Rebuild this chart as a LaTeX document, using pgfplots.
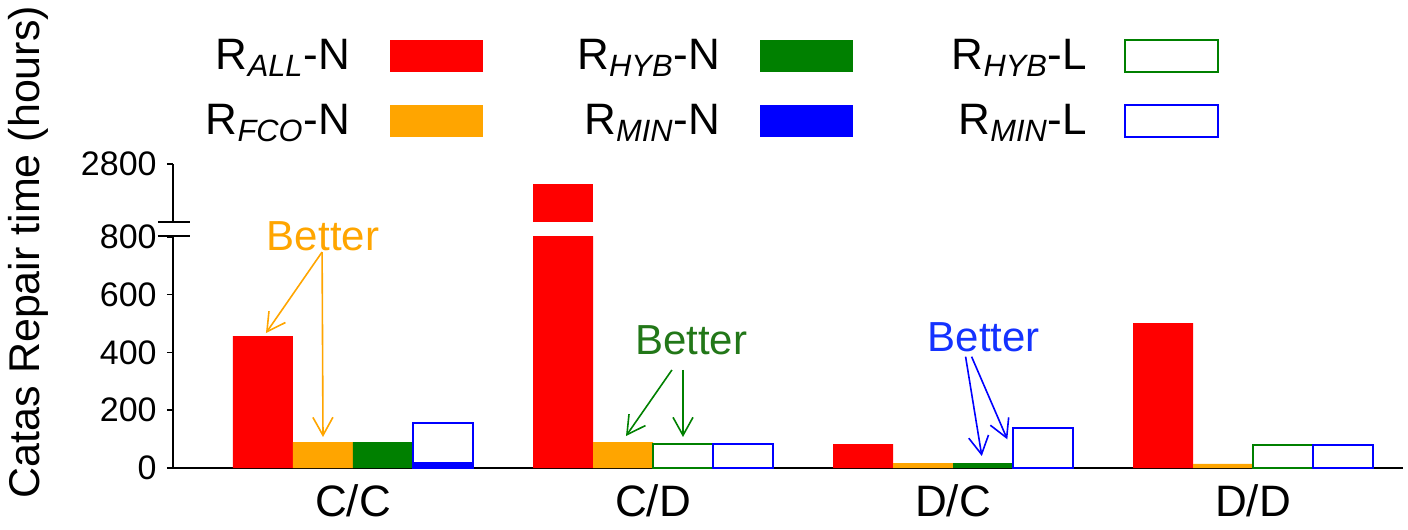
\documentclass[border=0pt]{standalone}
\usepackage{fontspec}
\setmainfont{Liberation Sans}
\usepackage{pgfplots}
\pgfplotsset{compat=1.18}
\usetikzlibrary{arrows.meta}
\definecolor{cred}{RGB}{255,0,0}
\definecolor{corange}{RGB}{255,165,0}
\definecolor{cgreen}{RGB}{0,128,0}
\definecolor{cblue}{RGB}{0,0,255}
\definecolor{tgreen}{RGB}{34,119,24}
\definecolor{tblue}{RGB}{20,50,255}
\newcommand{\lentry}[2]{\makebox[120pt][r]{R\textsubscript{\textit{#1}}-#2\kern20pt}}
\newcommand{\lentryc}[2]{\makebox[117pt][r]{R\textsubscript{\textit{#1}}-#2\kern18.5pt}}
\begin{document}
\begin{tikzpicture}
\useasboundingbox (-86.5pt,-31pt) rectangle (617.5pt,234pt);
\begin{axis}[
  scale only axis, width=615pt, height=152pt,
  xmin=-0.6, xmax=3.5, ymin=0, ymax=1052.8,
  axis lines=left, axis line style={-, line width=0.75pt},
  clip=false,
  xtick={0,1,2,3}, xticklabels={C/C,C/D,D/C,D/D},
  x tick style={draw=none},
  ytick={0,200,400,600,800,1052.8}, yticklabels={0,200,400,600,800,2800},
  tick align=outside, major tick length=3pt,
  y tick style={line width=0.75pt, black},
  yticklabel style={font=\fontsize{17}{20}\selectfont, inner sep=0pt, xshift=-5pt},
  xticklabel style={font=\fontsize{22}{26}\selectfont, inner sep=0pt, yshift=-5pt},
  ylabel={Catas Repair time (hours)},
  every axis y label/.style={at={(axis description cs:0,0)}, xshift=-72.5pt, yshift=108pt, rotate=90, anchor=center, font=\fontsize{21.5}{25}\selectfont},
  legend columns=3, legend plot pos=right,
  legend style={at={(axis description cs:0,1)}, anchor=north west, xshift=-11.5pt, yshift=70.25pt,
    draw=none, fill=none, inner sep=0pt, outer sep=0pt, column sep=0pt, row sep=0pt,
    nodes={inner sep=0pt}, cells={anchor=center}, font=\fontsize{22}{26}\selectfont},
  legend image code/.code={\path[draw=none, fill=none] (0pt,-16.25pt) rectangle (65pt,16.25pt); \path[#1] (0pt,-8pt) rectangle (46.5pt,8pt);},
]
% legend
\addlegendimage{fill=cred, draw=none}
\addlegendentry{\lentry{ALL}{N}}
\addlegendimage{fill=cgreen, draw=none}
\addlegendentry{\lentry{HYB}{N}}
\addlegendimage{fill=none, draw=cgreen, line width=1pt}
\addlegendentry{\lentryc{HYB}{L}}
\addlegendimage{fill=corange, draw=none}
\addlegendentry{\lentry{FCO}{N}}
\addlegendimage{fill=cblue, draw=none}
\addlegendentry{\lentry{MIN}{N}}
\addlegendimage{fill=none, draw=cblue, line width=1pt}
\addlegendentry{\lentryc{MIN}{L}}

% R_ALL-N
\addplot[ybar, bar width=30pt, bar shift=-45pt, fill=cred, draw=none, forget plot]
  coordinates {(0,457) (1,803) (2,83) (3,502)};
% upper piece of the broken C/D bar (display units above the break)
\addplot[fill=cred, draw=none, forget plot]
  coordinates {(0.6,852) (0.8,852) (0.8,983.5) (0.6,983.5)} -- cycle;
% R_FCO-N
\addplot[ybar, bar width=30pt, bar shift=-15pt, fill=corange, draw=none, forget plot]
  coordinates {(0,90) (1,90) (2,17) (3,14)};
% R_HYB-N
\addplot[ybar, bar width=30pt, bar shift=15pt, fill=cgreen, draw=none, forget plot]
  coordinates {(0,90) (2,17)};
% R_HYB-L
\addplot[ybar, bar width=30pt, bar shift=15pt, fill=none, draw=cgreen, line width=1pt, forget plot]
  coordinates {(1,83) (3,80)};
% R_MIN-N
\addplot[ybar, bar width=30pt, bar shift=45pt, fill=cblue, draw=none, forget plot]
  coordinates {(0,21)};
% R_MIN-L
\addplot[ybar, bar width=30pt, bar shift=45pt, fill=none, draw=cblue, line width=1pt, forget plot]
  coordinates {(0,156) (1,83) (2,139) (3,80)};

% axis break
\fill[white] (axis cs:-0.63,806) rectangle (axis cs:-0.57,849);
\draw[line width=0.75pt] (axis cs:-0.65,852) -- (axis cs:-0.543,852);
\draw[line width=0.75pt] (axis cs:-0.65,803) -- (axis cs:-0.543,803);

% annotations
\node[text=corange, font=\fontsize{21}{24}\selectfont] at (axis cs:-0.1,803.5) {Better};
\draw[corange, line width=0.8pt, -{Straight Barb[length=9pt,width=10pt]}] (axis cs:-0.103,748) -- (axis cs:-0.29,467.5);
\draw[corange, line width=0.8pt, -{Straight Barb[length=9pt,width=10pt]}] (axis cs:-0.103,748) -- (axis cs:-0.1,107.4);

\node[text=tgreen, font=\fontsize{21}{24}\selectfont] at (axis cs:1.127,443) {Better};
\draw[cgreen, line width=0.8pt, -{Straight Barb[length=9pt,width=10pt]}] (axis cs:1.063,339.4) -- (axis cs:0.91,110.8);
\draw[cgreen, line width=0.8pt, -{Straight Barb[length=9pt,width=10pt]}] (axis cs:1.1,339.4) -- (axis cs:1.1,107.4);

\node[text=tblue, font=\fontsize{21}{24}\selectfont] at (axis cs:2.103,453.7) {Better};
\draw[cblue, line width=0.8pt, -{Straight Barb[length=9pt,width=10pt]}] (axis cs:2.042,385.5) -- (axis cs:2.096,41.6);
\draw[cblue, line width=0.8pt, -{Straight Barb[length=9pt,width=10pt]}] (axis cs:2.062,385.5) -- (axis cs:2.181,99.4);
\end{axis}
\end{tikzpicture}
\end{document}
